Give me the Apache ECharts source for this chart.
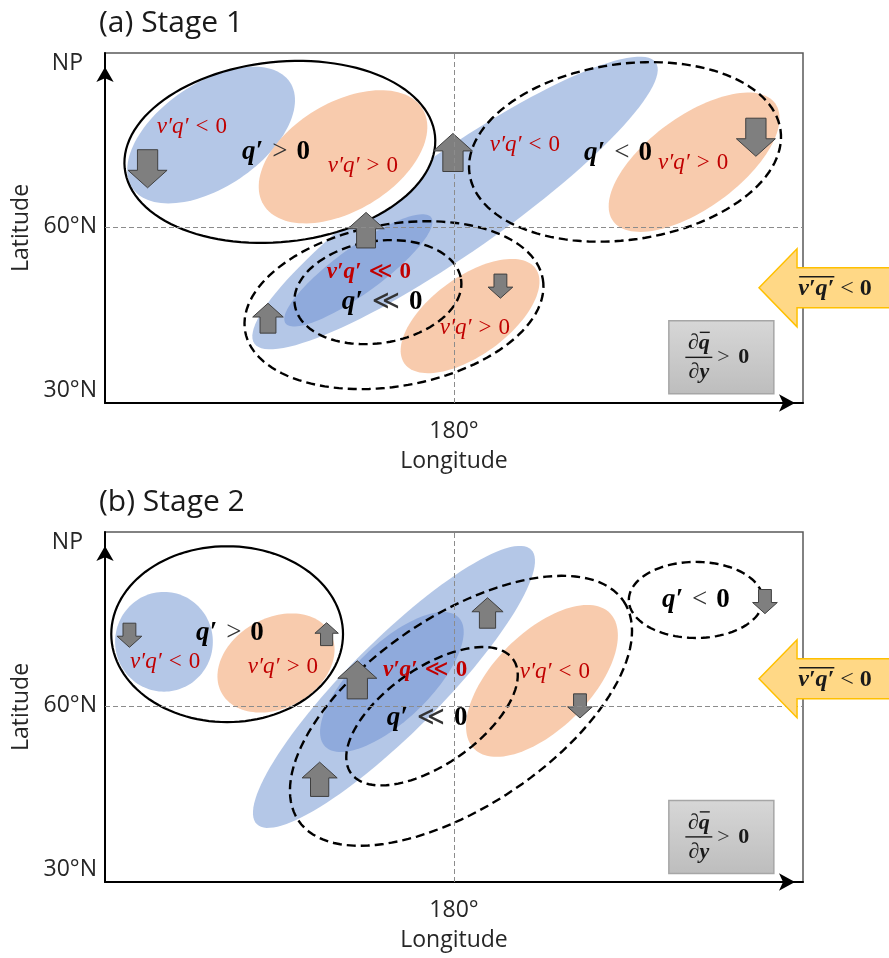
<!DOCTYPE html>
<html><head><meta charset="utf-8">
<script src="https://cdn.jsdelivr.net/npm/echarts@6/dist/echarts.min.js"></script>
<style>html,body{margin:0;padding:0;background:#fff}#c{width:889px;height:958px}</style>
</head><body><div id="c"></div>
<script>
// ---------- data ----------
const panelTitles = ['(a) Stage 1', '(b) Stage 2'];
const lonRange = [80, 280];
const latRange = [27.6, 92];
const xTickValues = [180];
const xTickLabels = ['180°'];
const yTickValues = [30, 60, 90];
const yTickLabels = ['30°N', '60°N', 'NP'];
const refLon = 180;
const refLat = 60;

// ellipses: [lon, lat, semi-major (deg lon), semi-minor (deg lon), tilt (deg), fill, edge]
const ellipsesA = [
  [180.3, 64.4, 70.2, 14.3, 35, 'blue', 'none'],
  [152.6, 52.0, 25.8, 6.6, 36, 'deep', 'none'],
  [130.1, 73.8, 44.7, 25.8, 6, 'white', 'solid'],
  [110.4, 76.9, 27.2, 14.9, 34, 'blue', 'none'],
  [148.2, 72.9, 26.6, 15.5, 31, 'orange', 'none'],
  [248.8, 71.9, 28.7, 13.2, 36, 'orange', 'none'],
  [184.6, 43.6, 23.2, 11.2, 36, 'orange', 'none'],
  [229.0, 73.8, 45.0, 25.2, 8, 'none', 'dashed'],
  [158.2, 48.0, 24.1, 14.6, 9, 'none', 'dashed'],
  [162.8, 45.6, 43.3, 23.2, 10, 'none', 'dashed']
];
const ellipsesB = [
  [162.8, 63.5, 55.6, 13.2, 45, 'blue', 'none'],
  [162.2, 64.4, 26.6, 10.9, 44, 'deep', 'none'],
  [115.0, 73.2, 33.2, 25.2, 0, 'white', 'solid'],
  [96.9, 71.8, 14.0, 14.3, 0, 'blue', 'none'],
  [129.0, 67.9, 17.8, 12.9, 29, 'orange', 'none'],
  [205.2, 64.6, 27.5, 13.8, 45, 'orange', 'none'],
  [182.0, 59.1, 56.2, 27.2, 34, 'none', 'dashed'],
  [173.7, 58.1, 28.4, 13.8, 35, 'none', 'dashed'],
  [249.3, 79.5, 19.2, 10.9, 0, 'none', 'dashed']
];

// block arrows: [lon, lat, direction (+1 north / -1 south), strength]
const arrowsA = [
  [92.2, 70.7, -1, 3], [179.7, 73.7, 1, 3], [154.8, 59.4, 1, 2.8],
  [126.7, 43.2, 1, 2.35], [266.5, 76.5, -1, 3], [193.3, 49.1, -1, 1.9]
];
const arrowsB = [
  [87.0, 73.0, -1, 1.9], [143.5, 73.2, 1, 1.8], [152.3, 64.8, 1, 3],
  [189.6, 77.1, 1, 2.4], [216.1, 60.0, -1, 1.9], [269.1, 79.2, -1, 1.9],
  [141.5, 46.5, 1, 2.7]
];

// labels: [lon, lat, text, style]
const textsA = [
  [104.9, 78.4, 'v′q′ < 0', 'red'], [129.0, 73.8, 'q′ > 0', 'black'],
  [153.9, 71.2, 'v′q′ > 0', 'red'], [200.3, 75.1, 'v′q′ < 0', 'red'],
  [227.0, 73.6, 'q′ < 0', 'black'], [248.5, 71.8, 'v′q′ > 0', 'red'],
  [155.6, 51.7, 'v′q′ ≪ 0', 'redBold'], [159.4, 46.2, 'q′ ≪ 0', 'black'],
  [186.0, 41.4, 'v′q′ > 0', 'red']
];
const textsB = [
  [115.8, 73.4, 'q′ > 0', 'black'], [97.2, 68.1, 'v′q′ < 0', 'red'],
  [131.0, 67.2, 'v′q′ > 0', 'red'], [171.7, 66.6, 'v′q′ ≪ 0', 'redBold'],
  [172.3, 57.8, 'q′ ≪ 0', 'black'], [208.9, 66.2, 'v′q′ < 0', 'red'],
  [249.3, 79.5, 'q′ < 0', 'black']
];

// annotation anchors: eddy-flux arrow tip, gradient box centre
const fluxArrowTips = [[267.4, 48.8], [267.4, 65.0]];
const fluxText = ['v′q′', '<', '0'];
const gradientBoxes = [[256.6, 36.0], [256.6, 35.9]];

// ---------- styles ----------
const SERIF = '"Liberation Serif","DejaVu Serif",serif';
const REL = '"Liberation Serif","DejaVu Sans",sans-serif';
const SANS = '"Open Sans","Noto Sans",sans-serif';
const fillColors = { blue: '#b4c7e7', deep: '#8faadc', orange: '#f8cbad', white: '#ffffff' };
const mctx = document.createElement('canvas').getContext('2d');
function tw(font, s) { mctx.font = font; return mctx.measureText(s).width; }

function ellipsePts(cx, cy, a, b, tilt) {
  const r = tilt * Math.PI / 180, pts = [];
  for (let i = 0; i < 120; i++) {
    const t = i / 120 * 2 * Math.PI, x = a * Math.cos(t), y = b * Math.sin(t);
    pts.push([cx + x * Math.cos(r) + y * Math.sin(r), cy - x * Math.sin(r) + y * Math.cos(r)]);
  }
  return pts;
}

function fillRenderer(list) {
  return function (params, api) {
    const d = list[params.dataIndex];
    if (d[5] === 'none') return null;
    const c = api.coord([d[0], d[1]]);
    const a = api.size([d[2], 0])[0], b = api.size([d[3], 0])[0];
    return { type: 'polygon', shape: { points: ellipsePts(c[0], c[1], a, b, d[4]) },
      style: { fill: fillColors[d[5]], stroke: null } };
  };
}
function edgeRenderer(list) {
  return function (params, api) {
    const d = list[params.dataIndex];
    if (d[6] === 'none') return null;
    const c = api.coord([d[0], d[1]]);
    const a = api.size([d[2], 0])[0], b = api.size([d[3], 0])[0];
    return { type: 'polygon', shape: { points: ellipsePts(c[0], c[1], a, b, d[4]) },
      style: { fill: null, stroke: '#000', lineWidth: d[6] === 'dashed' ? 2.4 : 2.2,
        lineDash: d[6] === 'dashed' ? [9, 5] : null } };
  };
}
function arrowRenderer(list) {
  return function (params, api) {
    const d = list[params.dataIndex];
    const c = api.coord([d[0], d[1]]);
    const w = 13 * d[3], h = 12.7 * d[3], dir = d[2];
    const hw = w / 2, sw = w * 0.26, hh = h * 0.46;
    const pts = [[0, -h / 2], [hw, -h / 2 + hh], [sw, -h / 2 + hh], [sw, h / 2], [-sw, h / 2], [-sw, -h / 2 + hh], [-hw, -h / 2 + hh]]
      .map(p => [c[0] + p[0], c[1] + p[1] * dir]);
    return { type: 'polygon', shape: { points: pts }, style: { fill: '#7f7f7f', stroke: '#3f3f3f', lineWidth: 1 } };
  };
}
function mk(color, relColor, size, vw, nw, pad) {
  return {
    v: { fontFamily: SERIF, fontStyle: 'italic', fontWeight: vw, fontSize: size, fill: color, color: color },
    r: { fontFamily: REL, fontWeight: 'normal', fontSize: size, fill: relColor, color: relColor, padding: [0, pad, 0, pad] },
    n: { fontFamily: SERIF, fontWeight: nw, fontSize: size, fill: color, color: color }
  };
}
const richSets = {
  red: mk('#c00000', '#c00000', 23, 'normal', 'normal', 7),
  redBold: mk('#c00000', '#c00000', 23, 'bold', 'bold', 7),
  black: mk('#000', '#333', 27, 'bold', 'bold', 9)
};
function textRenderer(list) {
  return function (params, api) {
    const d = list[params.dataIndex];
    const c = api.coord([d[0], d[1]]);
    const parts = d[2].split(' ');
    return { type: 'text', x: c[0], y: c[1],
      style: { text: '{v|' + parts[0] + '}{r|' + parts[1] + '}{n|' + parts[2] + '}', rich: richSets[d[3]],
        align: 'center', verticalAlign: 'middle' } };
  };
}
function fluxRenderer(idx, api) {
  const p = api.coord(fluxArrowTips[idx]);
  const x = p[0], y = p[1];
  const fv = 'italic bold 24px ' + SERIF, fr = '24px ' + SERIF, fn = 'bold 24px ' + SERIF;
  const wv = tw(fv, fluxText[0]), wr = tw(fr, ' ' + fluxText[1] + ' '), wn = tw(fn, fluxText[2]);
  const cx = x + 76, left = cx - (wv + wr + wn) / 2;
  return { type: 'group', children: [
    { type: 'polygon', shape: { points: [[x, y], [x + 38, y - 39], [x + 38, y - 20], [x + 170, y - 20], [x + 170, y + 20], [x + 38, y + 20], [x + 38, y + 39]] },
      style: { fill: '#ffd886', stroke: '#ffc000', lineWidth: 1.5 } },
    { type: 'text', x: left, y: y + 1, style: { text: fluxText[0], font: fv, fill: '#1a1a1a', verticalAlign: 'middle', align: 'left' } },
    { type: 'text', x: left + wv, y: y + 1, style: { text: ' ' + fluxText[1] + ' ', font: fr, fill: '#1a1a1a', verticalAlign: 'middle', align: 'left' } },
    { type: 'text', x: left + wv + wr, y: y + 1, style: { text: fluxText[2], font: fn, fill: '#1a1a1a', verticalAlign: 'middle', align: 'left' } },
    { type: 'line', shape: { x1: left + 1, y1: y - 11, x2: left + wv, y2: y - 11 }, style: { stroke: '#1a1a1a', lineWidth: 1.4 } }
  ] };
}
function gradRenderer(idx, api) {
  const p = api.coord(gradientBoxes[idx]);
  const cx = p[0], cy = p[1];
  const fd = 'bold 22px ' + SERIF, fq = 'italic bold 22px ' + SERIF, fr = '22px ' + SERIF;
  const wd = tw(fd, '∂'), wq = tw(fq, 'q'), wy = tw(fq, 'y');
  const fx = cx - 22.5;
  const nl = fx - (wd + wq) / 2, dl = fx - (wd + wy) / 2;
  return { type: 'group', children: [
    { type: 'rect', shape: { x: cx - 52.5, y: cy - 36.5, width: 105, height: 73 },
      style: { fill: new echarts.graphic.LinearGradient(0, 0, 0, 1, [{ offset: 0, color: '#d7d7d7' }, { offset: 1, color: '#bdbdbd' }]), stroke: '#a6a6a6', lineWidth: 1.5 } },
    { type: 'text', x: nl, y: cy - 14, style: { text: '∂', font: fd, fill: '#1a1a1a', verticalAlign: 'middle' } },
    { type: 'text', x: nl + wd, y: cy - 14, style: { text: 'q', font: fq, fill: '#1a1a1a', verticalAlign: 'middle' } },
    { type: 'line', shape: { x1: nl + wd + 1, y1: cy - 25, x2: nl + wd + wq, y2: cy - 25 }, style: { stroke: '#1a1a1a', lineWidth: 1.4 } },
    { type: 'line', shape: { x1: cx - 36, y1: cy, x2: cx - 9, y2: cy }, style: { stroke: '#1a1a1a', lineWidth: 1.4 } },
    { type: 'text', x: dl, y: cy + 15, style: { text: '∂', font: fd, fill: '#1a1a1a', verticalAlign: 'middle' } },
    { type: 'text', x: dl + wd, y: cy + 15, style: { text: 'y', font: fq, fill: '#1a1a1a', verticalAlign: 'middle' } },
    { type: 'text', x: cx - 4, y: cy, style: { text: '>', font: fr, fill: '#333', verticalAlign: 'middle' } },
    { type: 'text', x: cx + 17, y: cy, style: { text: '0', font: fd, fill: '#1a1a1a', verticalAlign: 'middle' } }
  ] };
}

// ---------- option ----------
const panels = [
  { ell: ellipsesA, arr: arrowsA, txt: textsA },
  { ell: ellipsesB, arr: arrowsB, txt: textsB }
];
const gridTops = [53, 532];
const axisFont = { fontFamily: SANS, fontSize: 23, color: '#262626' };
const option = {
  animation: false,
  backgroundColor: '#fff',
  title: panelTitles.map((t, i) => ({ text: t, left: 94, top: gridTops[i] - 50,
    textStyle: { fontFamily: SANS, fontSize: 30, fontWeight: 'normal', color: '#1a1a1a' } })),
  grid: gridTops.map(t => ({ left: 105, top: t, width: 698, height: 350, show: true,
    borderColor: '#595959', borderWidth: 1.5, backgroundColor: 'transparent' })),
  xAxis: [0, 1].map(i => ({ type: 'value', gridIndex: i, min: lonRange[0], max: lonRange[1],
    axisLine: { show: true, onZero: false, lineStyle: { color: '#000', width: 2 }, symbol: ['none', 'arrow'], symbolSize: [13, 16], symbolOffset: [0, -8] },
    axisTick: { show: false }, splitLine: { show: false },
    axisLabel: Object.assign({ customValues: xTickValues, formatter: v => xTickLabels[xTickValues.indexOf(v)], margin: 17 }, axisFont),
    name: 'Longitude', nameLocation: 'middle', nameGap: 47,
    nameTextStyle: axisFont })),
  yAxis: [0, 1].map(i => ({ type: 'value', gridIndex: i, min: latRange[0], max: latRange[1],
    axisLine: { show: true, onZero: false, lineStyle: { color: '#000', width: 2 }, symbol: ['none', 'arrow'], symbolSize: [13, 15], symbolOffset: [0, -14] },
    axisTick: { show: false }, splitLine: { show: false },
    axisLabel: Object.assign({ customValues: yTickValues,
      formatter: v => v === 90 ? '{np|' + yTickLabels[2] + '}' : yTickLabels[yTickValues.indexOf(v)],
      rich: { np: Object.assign({ padding: [0, 14, 0, 0] }, axisFont) }, margin: 8 }, axisFont),
    name: 'Latitude', nameLocation: 'middle', nameGap: 63, nameRotate: 90,
    nameTextStyle: axisFont })),
  series: []
};
panels.forEach((p, i) => {
  const base = { xAxisIndex: i, yAxisIndex: i, coordinateSystem: 'cartesian2d', encode: { x: 0, y: 1 }, silent: true };
  option.series.push(Object.assign({ type: 'custom', z: 1, renderItem: fillRenderer(p.ell), data: p.ell.map(d => [d[0], d[1]]) }, base));
  option.series.push({ type: 'scatter', xAxisIndex: i, yAxisIndex: i, z: 2, symbolSize: 0, silent: true,
    data: [[refLon, refLat]],
    markLine: { silent: true, symbol: 'none', label: { show: false }, animation: false,
      lineStyle: { color: '#8c8c8c', width: 1, type: [5, 3] }, data: [{ xAxis: refLon }, { yAxis: refLat }] } });
  option.series.push(Object.assign({ type: 'custom', z: 3, renderItem: edgeRenderer(p.ell), data: p.ell.map(d => [d[0], d[1]]) }, base));
  option.series.push(Object.assign({ type: 'custom', z: 4, renderItem: arrowRenderer(p.arr), data: p.arr.map(d => [d[0], d[1]]) }, base));
  option.series.push(Object.assign({ type: 'custom', z: 5, renderItem: textRenderer(p.txt), data: p.txt.map(d => [d[0], d[1]]) }, base));
  option.series.push(Object.assign({ type: 'custom', z: 6, data: [fluxArrowTips[i]] }, base, { renderItem: (pa, api) => fluxRenderer(i, api) }));
  option.series.push(Object.assign({ type: 'custom', z: 6, data: [gradientBoxes[i]] }, base, { renderItem: (pa, api) => gradRenderer(i, api) }));
});
const chart = echarts.init(document.getElementById('c'), null, { renderer: 'canvas' });
chart.setOption(option);
</script></body></html>
